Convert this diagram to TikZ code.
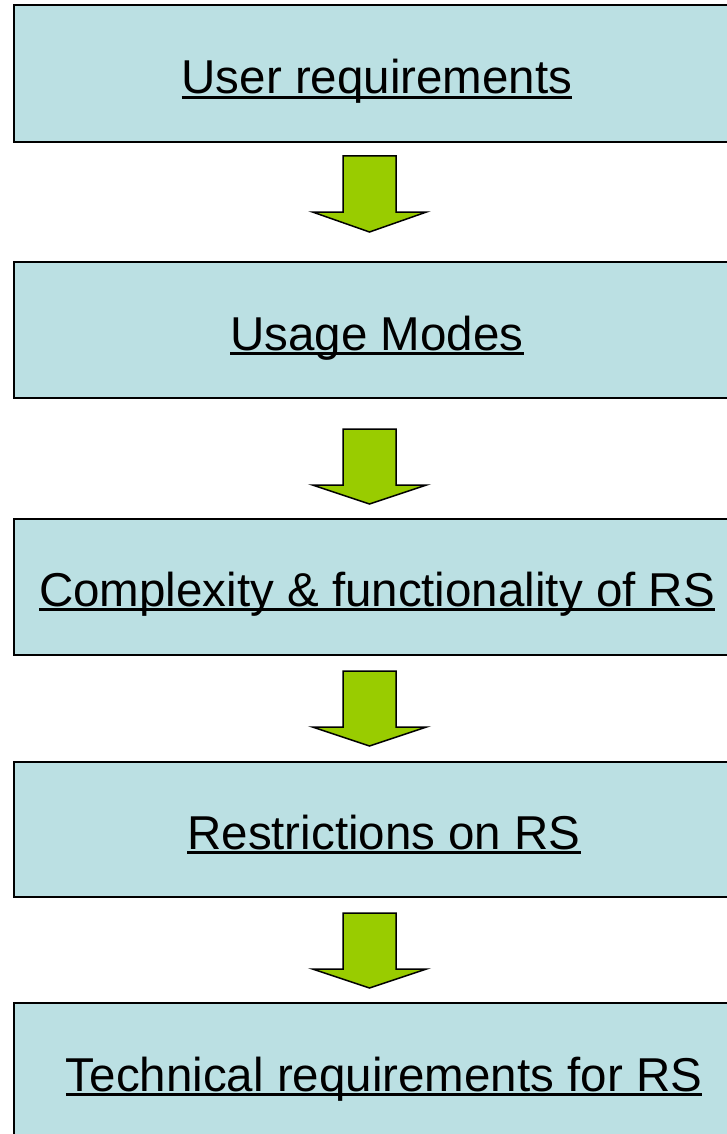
\documentclass[tikz,border=0pt]{standalone}
\usepackage{fontspec}
\setmainfont{Liberation Sans}
\usetikzlibrary{calc}
\definecolor{boxfill}{HTML}{BBE0E3}
\definecolor{arrowgreen}{HTML}{99CC00}
\begin{document}
\begin{tikzpicture}[x=1pt,y=-1pt,
  stagebox/.style={draw=black, line width=1.8pt, fill=boxfill, anchor=north west,
    minimum width=740pt, inner sep=0pt, outer sep=0pt},
  stagetext/.style={anchor=base, inner sep=0pt, outer sep=0pt,
    font=\fontsize{47.5}{56}\selectfont},
  uline/.style={line width=2.4pt, black},
  blockarrow/.style={draw=black, line width=1.5pt, fill=arrowgreen, line join=miter}
]
\useasboundingbox (0,0) rectangle (726,1134);
\fill[white] (0,0) rectangle (726,1134);

% boxes
\node[stagebox, minimum height=137pt] (b1) at (14,5) {};
\node[stagebox, minimum height=136pt] (b2) at (14,262) {};
\node[stagebox, minimum height=136pt] (b3) at (14,519) {};
\node[stagebox, minimum height=135pt] (b4) at (14,762) {};
\node[stagebox, minimum height=137pt] (b5) at (14,1003) {};

% texts
\node[stagetext] (t1) at (377,94) {User requirements};
\node[stagetext] (t2) at (377,350) {Usage Modes};
\node[stagetext] (t3) at (377,606) {Complexity \& functionality of RS};
\node[stagetext] (t4) at (384,849) {Restrictions on RS};
\node[stagetext] (t5) at (384,1091) {Technical requirements for RS};

\foreach \t in {t1,t2,t3,t4,t5}{
  \draw[uline] ([yshift=-3.5pt]\t.base west) -- ([yshift=-3.5pt]\t.base east);
}

% block arrows: shaft top, head top, tip
\foreach \a/\s/\h/\p in {a1/156/212/232, a2/429/485/504, a3/671/727/746, a4/913/969/988}{
  \coordinate (\a) at (369.5,\p);
  \draw[blockarrow] (343,\s) -- (396,\s) -- (396,\h) -- (426.5,\h) -- (\a)
    -- (312.5,\h) -- (343,\h) -- cycle;
}
\end{tikzpicture}
\end{document}
